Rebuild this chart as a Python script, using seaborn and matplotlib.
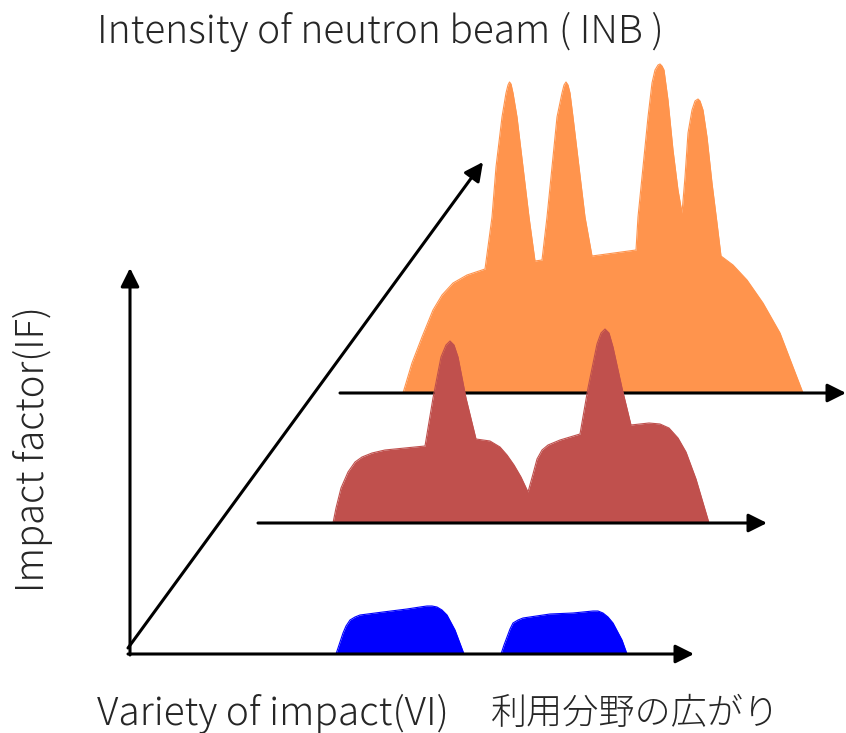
import numpy as np
import pandas as pd
import seaborn as sns
import matplotlib.pyplot as plt

# profiles: x position and top edge for each shape
orange_x = [403, 412, 422, 433, 442, 453, 467, 485,
            492, 496, 502, 506, 508, 509.5, 511, 513, 517, 523, 529, 535,
            542, 547, 552, 557, 562, 564, 566, 568, 570, 573, 579, 585, 592,
            636, 638, 643, 648, 652, 655, 658, 660, 662, 664, 668, 673, 678, 682,
            685, 688, 692, 695, 698, 700, 703, 707, 712, 717, 721,
            733, 747, 763, 780, 793, 803]
orange_y = [393, 363, 337, 310, 295, 283, 275, 269,
            217, 167, 117, 93, 85, 82, 84, 93, 117, 167, 217, 261,
            260, 217, 167, 117, 93, 85, 82, 85, 93, 117, 167, 217, 256,
            250, 217, 167, 117, 83, 70, 65, 64, 66, 70, 100, 150, 190, 213,
            177, 133, 110, 101, 99, 101, 110, 137, 183, 223, 256,
            265, 280, 303, 333, 367, 393]

red_x = [333, 336, 341, 348, 355, 362, 372, 385, 425, 433, 441, 446,
         450, 454, 458, 466, 476,
         490, 500, 507, 514, 521, 528, 533, 537, 542, 548, 560, 580, 588,
         597, 601, 605, 609, 613, 622, 631,
         649, 660, 669, 678, 686, 696, 709]
red_y = [523, 508, 488, 472, 462, 457, 453, 450, 446, 398, 357, 345,
         341, 345, 357, 398, 439,
         441, 447, 455, 465, 477, 492, 474, 459, 450, 445, 440, 434, 388,
         344, 333, 329, 333, 347, 388, 425,
         423, 424, 428, 438, 452, 479, 523]

blue1_x = [336, 340, 343, 346, 350, 355, 360, 383, 407, 420, 427, 432, 437,
           442, 447, 455, 464]
blue1_y = [654, 642, 633, 626, 620, 617, 615, 612, 609, 607, 606, 606, 607,
           610, 615, 630, 654]
blue2_x = [501, 504, 507, 510, 513, 518, 523, 550, 573, 593, 598, 603, 608,
           613, 622, 627]
blue2_y = [654, 645, 637, 629, 623, 620, 618, 614, 613, 611, 611, 613, 617,
           623, 640, 654]

baselines = {'orange': 393, 'red': 523, 'blue': 654}

# arrows: (x0, y0, x1, y1)
axis_arrows = [(130, 655, 130, 268),
               (128, 654, 694, 654),
               (128, 648, 483, 162),
               (258, 523, 767, 523),
               (340, 393, 846, 393)]

title = 'Intensity of neutron beam ( INB )'
xlabel_en = 'Variety of impact(VI)'
xlabel_ja = '利用分野の広がり'
ylabel = 'Impact factor(IF)'

sns.set_theme(style='white')
plt.rcParams['font.family'] = ['Noto Sans CJK JP', 'DejaVu Sans']

fig = plt.figure(figsize=(8.46, 7.33), dpi=100)
ax = fig.add_axes([0, 0, 1, 1])
ax.set_xlim(0, 846)
ax.set_ylim(733, 0)
ax.axis('off')


def draw_arrow(a, z):
    x0, y0, x1, y1 = a
    ax.annotate('', xy=(x1, y1), xytext=(x0, y0),
                arrowprops=dict(arrowstyle='-|>', color='black', lw=2.2,
                                mutation_scale=28, shrinkA=0, shrinkB=0),
                zorder=z)


def draw_shape(xs, ys, base, color, z):
    df = pd.DataFrame({'x': xs, 'y': ys})
    ax.fill_between(df['x'], df['y'], base, color=color, lw=0, zorder=z)
    sns.lineplot(data=df, x='x', y='y', ax=ax, color=color, lw=0.8,
                 sort=False, zorder=z)


draw_arrow(axis_arrows[0], 1)
draw_arrow(axis_arrows[2], 1)
draw_shape(orange_x, orange_y, baselines['orange'], '#FF944D', 2)
draw_arrow(axis_arrows[4], 3)
draw_shape(red_x, red_y, baselines['red'], '#C0504D', 4)
draw_arrow(axis_arrows[3], 5)
draw_shape(blue1_x, blue1_y, baselines['blue'], '#0000FF', 6)
draw_shape(blue2_x, blue2_y, baselines['blue'], '#0000FF', 6)
draw_arrow(axis_arrows[1], 7)

ax.text(97, 32, title, fontsize=28, fontweight='light', va='center', ha='left')
ax.text(97, 714, xlabel_en, fontsize=28, fontweight='light', va='center', ha='left')
ax.text(491, 714, xlabel_ja, fontsize=26, fontweight='light', va='center', ha='left')
ax.text(33, 449, ylabel, fontsize=27.5, fontweight='light', va='center', ha='center',
        rotation=90)

plt.savefig('out.png', dpi=100)
